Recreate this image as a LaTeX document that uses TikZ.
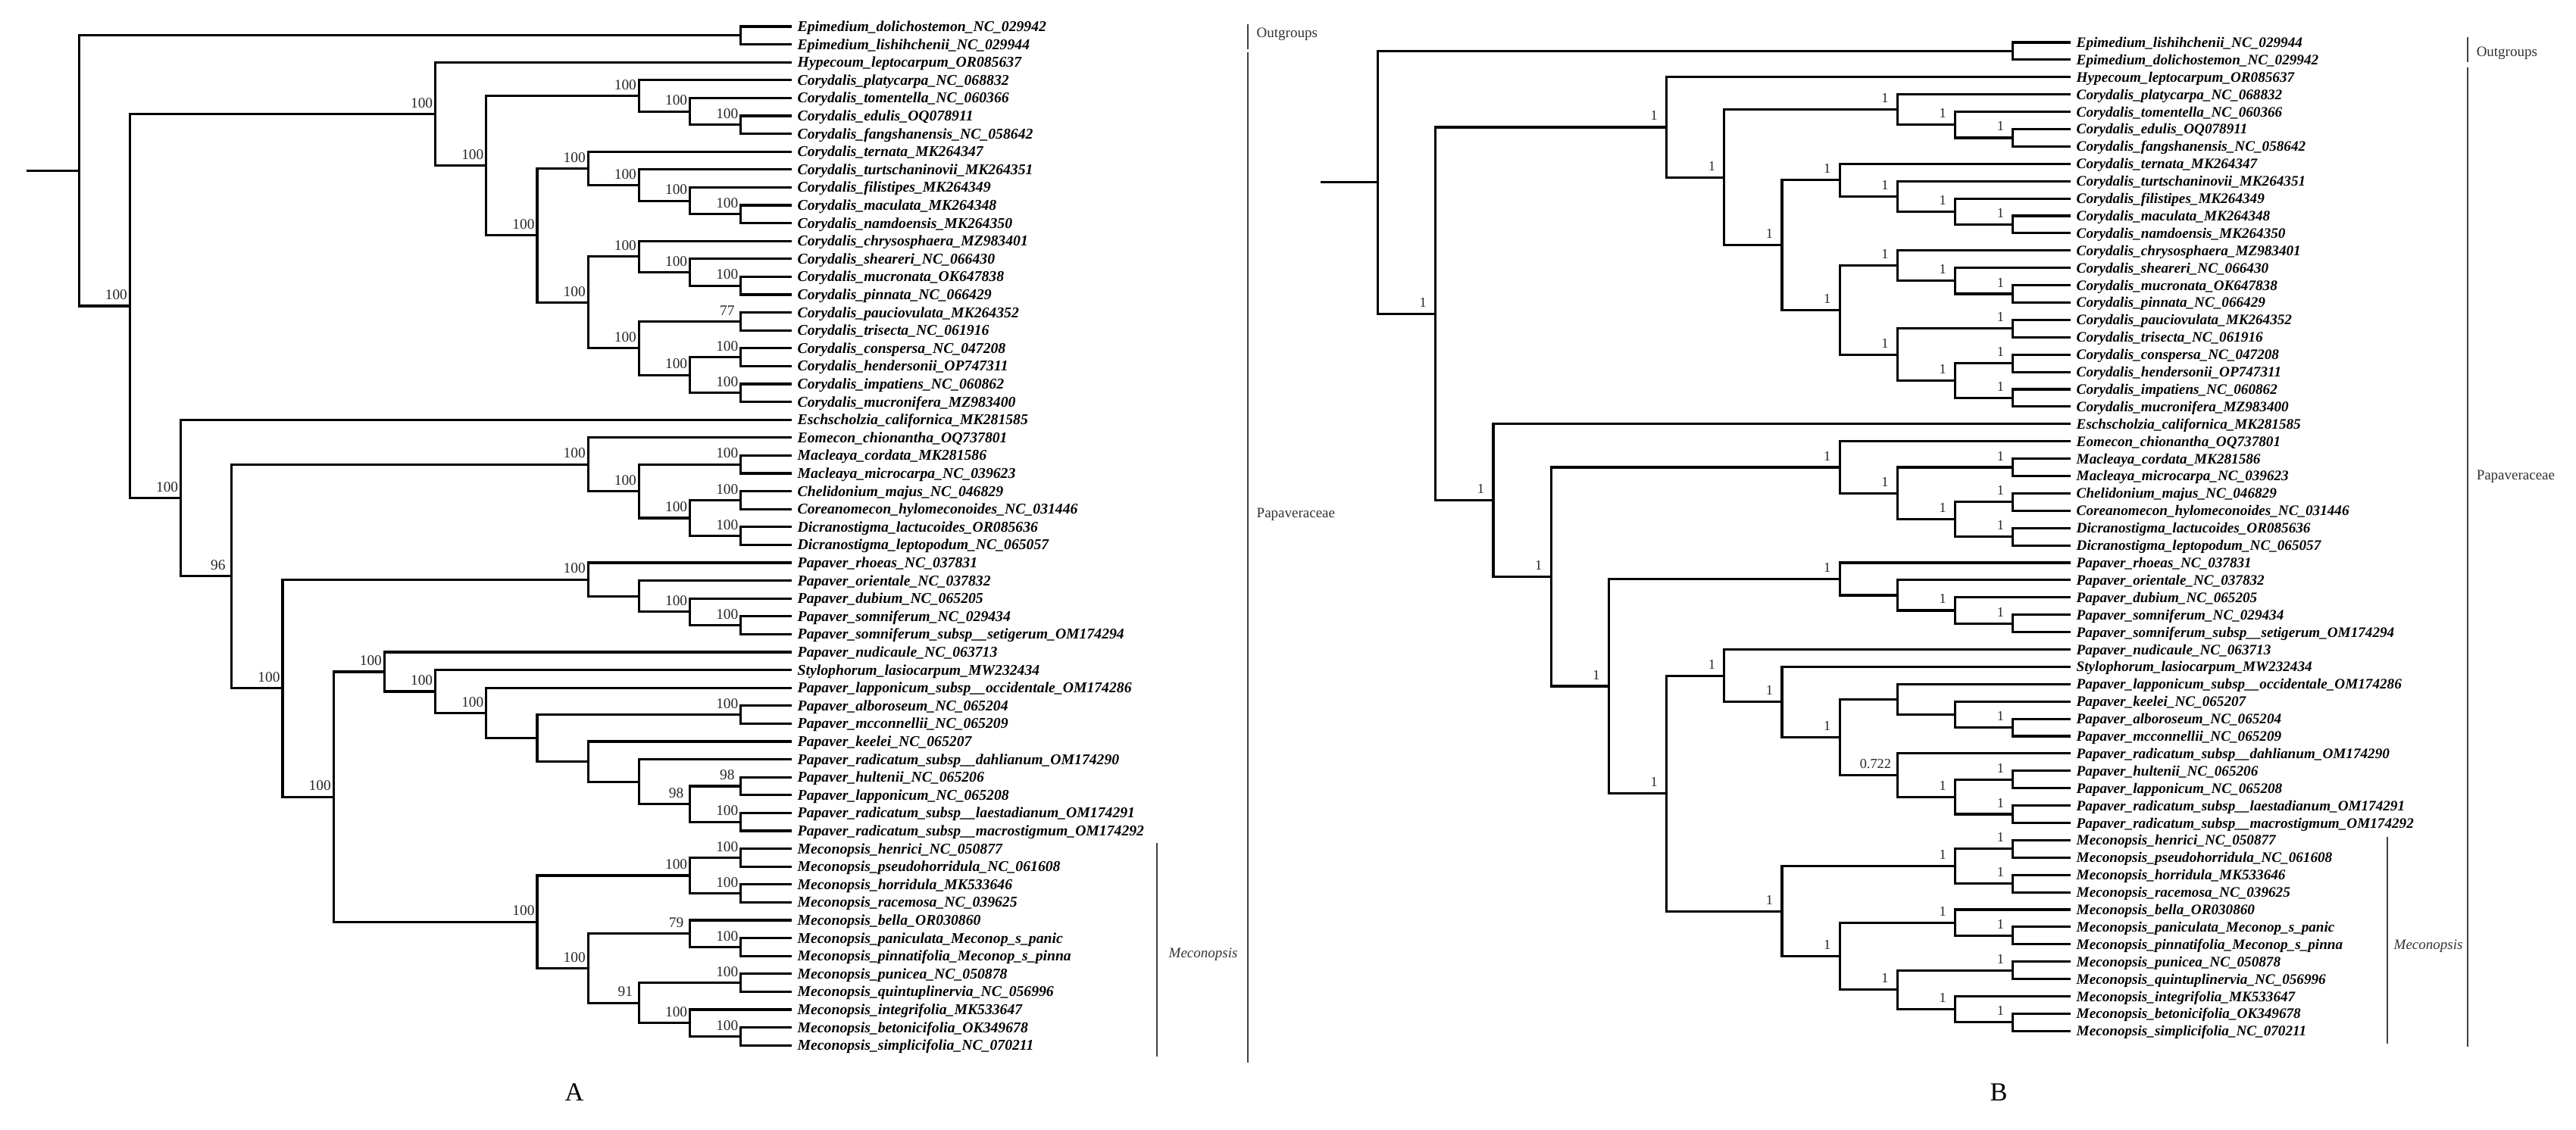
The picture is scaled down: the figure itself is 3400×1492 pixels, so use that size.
\documentclass[tikz,border=0pt]{standalone}
\usepackage{fontspec}
\setmainfont{Liberation Serif}
\usetikzlibrary{calc}
\newcommand\lfntA{\fontsize{5.6}{6}\selectfont\bfseries\itshape}
\newcommand\lfntB{\fontsize{5.45}{6}\selectfont\bfseries\itshape}
\newcommand\sfntA{\fontsize{5.5}{6}\selectfont}
\newcommand\sfntB{\fontsize{5.2}{6}\selectfont}
\newcommand\gfnt{\fontsize{5.4}{6}\selectfont}
\newcommand\pfnt{\fontsize{9.8}{11}\selectfont}
\newcommand\lfA[2]{\coordinate (a#1) at (1045,{35+23.6*(#1-1)});\node[leafA] (ta#1) at (a#1) {#2};}
\newcommand\lfB[2]{\coordinate (b#1) at (2733,{56+22.9*(#1-1)});\node[leafB] (tb#1) at (b#1) {#2};}
\newcommand\nn[4]{\path ($(#3)!0.5!(#4)$) coordinate (m#1);\coordinate (#1) at (m#1 -| #2);\draw[br] (#1) |- (#3);\draw[br] (#1) |- (#4);}
\newcommand\nd[6]{\nn{#1}{#2}{#3}{#4}\node[#5] (s#1) at (#1) {#6};}
\tikzset{
  br/.style={line width=0.9pt, black},
  bkt/.style={line width=0.7pt, black!75},
  leafA/.style={anchor=base west, inner sep=0pt, xshift=0.07cm, yshift=-0.065cm, font=\lfntA},
  leafB/.style={anchor=base west, inner sep=0pt, xshift=0.07cm, yshift=-0.065cm, font=\lfntB},
  supA/.style={anchor=base, inner sep=0pt, xshift=-0.18cm, yshift=0.083cm, font=\sfntA, text=black!85},
  supB/.style={anchor=base, inner sep=0pt, xshift=-0.165cm, yshift=0.09cm, font=\sfntB, text=black!85},
  supBw/.style={supB, xshift=-0.125cm},
  grp/.style={anchor=base west, inner sep=0pt, font=\gfnt, text=black!80},
  pan/.style={anchor=center, inner sep=0pt, font=\pfnt}
}
\begin{document}
\begin{tikzpicture}[x=0.01cm, y=-0.01cm]
\fill[white] (0,0) rectangle (3400,1492);
\useasboundingbox (0,0) rectangle (3400,1492);
\foreach \h in {0,...,14} {\coordinate (LA\h) at ({1045-67.2*\h},0);}
\foreach \h in {0,...,12} {\coordinate (LB\h) at ({2733-76.2*\h},0);}
% ---------------- Tree A leaves
\lfA{1}{Epimedium\_dolichostemon\_NC\_029942}
\lfA{2}{Epimedium\_lishihchenii\_NC\_029944}
\lfA{3}{Hypecoum\_leptocarpum\_OR085637}
\lfA{4}{Corydalis\_platycarpa\_NC\_068832}
\lfA{5}{Corydalis\_tomentella\_NC\_060366}
\lfA{6}{Corydalis\_edulis\_OQ078911}
\lfA{7}{Corydalis\_fangshanensis\_NC\_058642}
\lfA{8}{Corydalis\_ternata\_MK264347}
\lfA{9}{Corydalis\_turtschaninovii\_MK264351}
\lfA{10}{Corydalis\_filistipes\_MK264349}
\lfA{11}{Corydalis\_maculata\_MK264348}
\lfA{12}{Corydalis\_namdoensis\_MK264350}
\lfA{13}{Corydalis\_chrysosphaera\_MZ983401}
\lfA{14}{Corydalis\_sheareri\_NC\_066430}
\lfA{15}{Corydalis\_mucronata\_OK647838}
\lfA{16}{Corydalis\_pinnata\_NC\_066429}
\lfA{17}{Corydalis\_pauciovulata\_MK264352}
\lfA{18}{Corydalis\_trisecta\_NC\_061916}
\lfA{19}{Corydalis\_conspersa\_NC\_047208}
\lfA{20}{Corydalis\_hendersonii\_OP747311}
\lfA{21}{Corydalis\_impatiens\_NC\_060862}
\lfA{22}{Corydalis\_mucronifera\_MZ983400}
\lfA{23}{Eschscholzia\_californica\_MK281585}
\lfA{24}{Eomecon\_chionantha\_OQ737801}
\lfA{25}{Macleaya\_cordata\_MK281586}
\lfA{26}{Macleaya\_microcarpa\_NC\_039623}
\lfA{27}{Chelidonium\_majus\_NC\_046829}
\lfA{28}{Coreanomecon\_hylomeconoides\_NC\_031446}
\lfA{29}{Dicranostigma\_lactucoides\_OR085636}
\lfA{30}{Dicranostigma\_leptopodum\_NC\_065057}
\lfA{31}{Papaver\_rhoeas\_NC\_037831}
\lfA{32}{Papaver\_orientale\_NC\_037832}
\lfA{33}{Papaver\_dubium\_NC\_065205}
\lfA{34}{Papaver\_somniferum\_NC\_029434}
\lfA{35}{Papaver\_somniferum\_subsp\_\_setigerum\_OM174294}
\lfA{36}{Papaver\_nudicaule\_NC\_063713}
\lfA{37}{Stylophorum\_lasiocarpum\_MW232434}
\lfA{38}{Papaver\_lapponicum\_subsp\_\_occidentale\_OM174286}
\lfA{39}{Papaver\_alboroseum\_NC\_065204}
\lfA{40}{Papaver\_mcconnellii\_NC\_065209}
\lfA{41}{Papaver\_keelei\_NC\_065207}
\lfA{42}{Papaver\_radicatum\_subsp\_\_dahlianum\_OM174290}
\lfA{43}{Papaver\_hultenii\_NC\_065206}
\lfA{44}{Papaver\_lapponicum\_NC\_065208}
\lfA{45}{Papaver\_radicatum\_subsp\_\_laestadianum\_OM174291}
\lfA{46}{Papaver\_radicatum\_subsp\_\_macrostigmum\_OM174292}
\lfA{47}{Meconopsis\_henrici\_NC\_050877}
\lfA{48}{Meconopsis\_pseudohorridula\_NC\_061608}
\lfA{49}{Meconopsis\_horridula\_MK533646}
\lfA{50}{Meconopsis\_racemosa\_NC\_039625}
\lfA{51}{Meconopsis\_bella\_OR030860}
\lfA{52}{Meconopsis\_paniculata\_Meconop\_s\_panic}
\lfA{53}{Meconopsis\_pinnatifolia\_Meconop\_s\_pinna}
\lfA{54}{Meconopsis\_punicea\_NC\_050878}
\lfA{55}{Meconopsis\_quintuplinervia\_NC\_056996}
\lfA{56}{Meconopsis\_integrifolia\_MK533647}
\lfA{57}{Meconopsis\_betonicifolia\_OK349678}
\lfA{58}{Meconopsis\_simplicifolia\_NC\_070211}
% ---------------- Tree A internal nodes
\nn{Aout}{LA1}{a1}{a2}
\nd{Ac67}{LA1}{a6}{a7}{supA}{100}
\nd{Ac57}{LA2}{a5}{Ac67}{supA}{100}
\nd{Ac47}{LA3}{a4}{Ac57}{supA}{100}
\nd{Ac1112}{LA1}{a11}{a12}{supA}{100}
\nd{Ac1012}{LA2}{a10}{Ac1112}{supA}{100}
\nd{Ac912}{LA3}{a9}{Ac1012}{supA}{100}
\nd{Ac812}{LA4}{a8}{Ac912}{supA}{100}
\nd{Ac1516}{LA1}{a15}{a16}{supA}{100}
\nd{Ac1416}{LA2}{a14}{Ac1516}{supA}{100}
\nd{Ac1316}{LA3}{a13}{Ac1416}{supA}{100}
\nd{Ac1718}{LA1}{a17}{a18}{supA}{77}
\nd{Ac1920}{LA1}{a19}{a20}{supA}{100}
\nd{Ac2122}{LA1}{a21}{a22}{supA}{100}
\nd{Ac1922}{LA2}{Ac1920}{Ac2122}{supA}{100}
\nd{Ac1722}{LA3}{Ac1718}{Ac1922}{supA}{100}
\nd{Ac1322}{LA4}{Ac1316}{Ac1722}{supA}{100}
\nd{Ac822}{LA5}{Ac812}{Ac1322}{supA}{100}
\nd{Ac422}{LA6}{Ac47}{Ac822}{supA}{100}
\nd{Ac322}{LA7}{a3}{Ac422}{supA}{100}
\nd{Ac2526}{LA1}{a25}{a26}{supA}{100}
\nd{Ac2728}{LA1}{a27}{a28}{supA}{100}
\nd{Ac2930}{LA1}{a29}{a30}{supA}{100}
\nd{Ac2730}{LA2}{Ac2728}{Ac2930}{supA}{100}
\nd{Ac2530}{LA3}{Ac2526}{Ac2730}{supA}{100}
\nd{Ac2430}{LA4}{a24}{Ac2530}{supA}{100}
\nd{Ac3435}{LA1}{a34}{a35}{supA}{100}
\nd{Ac3335}{LA2}{a33}{Ac3435}{supA}{100}
\nn{Ac3235}{LA3}{a32}{Ac3335}
\nd{Ac3135}{LA4}{a31}{Ac3235}{supA}{100}
\nd{Ac3940}{LA1}{a39}{a40}{supA}{100}
\nd{Ac4344}{LA1}{a43}{a44}{supA}{98}
\nd{Ac4546}{LA1}{a45}{a46}{supA}{100}
\nd{Ac4346}{LA2}{Ac4344}{Ac4546}{supA}{98}
\nn{Ac4246}{LA3}{a42}{Ac4346}
\nn{Ac4146}{LA4}{a41}{Ac4246}
\nn{Ac3946}{LA5}{Ac3940}{Ac4146}
\nd{Ac3846}{LA6}{a38}{Ac3946}{supA}{100}
\nd{Ac3746}{LA7}{a37}{Ac3846}{supA}{100}
\nd{Ac3646}{LA8}{a36}{Ac3746}{supA}{100}
\nd{Ac4748}{LA1}{a47}{a48}{supA}{100}
\nd{Ac4950}{LA1}{a49}{a50}{supA}{100}
\nd{Ac4750}{LA2}{Ac4748}{Ac4950}{supA}{100}
\nd{Ac5253}{LA1}{a52}{a53}{supA}{100}
\nd{Ac5153}{LA2}{a51}{Ac5253}{supA}{79}
\nd{Ac5455}{LA1}{a54}{a55}{supA}{100}
\nd{Ac5758}{LA1}{a57}{a58}{supA}{100}
\nd{Ac5658}{LA2}{a56}{Ac5758}{supA}{100}
\nd{Ac5458}{LA3}{Ac5455}{Ac5658}{supA}{91}
\nd{Ac5158}{LA4}{Ac5153}{Ac5458}{supA}{100}
\nd{Ac4758}{LA5}{Ac4750}{Ac5158}{supA}{100}
\nd{Ac3658}{LA9}{Ac3646}{Ac4758}{supA}{100}
\nd{Ac3158}{LA10}{Ac3135}{Ac3658}{supA}{100}
\nd{Ac2458}{LA11}{Ac2430}{Ac3158}{supA}{96}
\nd{Ac2358}{LA12}{a23}{Ac2458}{supA}{100}
\nd{Ac358}{LA13}{Ac322}{Ac2358}{supA}{100}
\nn{Aroot}{LA14}{Aout}{Ac358}
\path (Aroot) ++(-69,0) coordinate (Astub);
\draw[br] (Astub) -- (Aroot);
% ---------------- Tree A groups
\draw[bkt] (1647,32) -- (1647,65);
\node[grp] (gAout) at (1658,49.5) {Outgroups};
\draw[bkt] (1647,69) -- (1647,1403);
\node[grp] (gApap) at (1658,683.5) {Papaveraceae};
\draw[bkt] (1527,1113) -- (1527,1395);
\node[grp, font=\gfnt\itshape] (gAmec) at (1542,1264) {Meconopsis};
\node[pan] (pA) at (758,1442) {A};
% ---------------- Tree B leaves
\lfB{1}{Epimedium\_lishihchenii\_NC\_029944}
\lfB{2}{Epimedium\_dolichostemon\_NC\_029942}
\lfB{3}{Hypecoum\_leptocarpum\_OR085637}
\lfB{4}{Corydalis\_platycarpa\_NC\_068832}
\lfB{5}{Corydalis\_tomentella\_NC\_060366}
\lfB{6}{Corydalis\_edulis\_OQ078911}
\lfB{7}{Corydalis\_fangshanensis\_NC\_058642}
\lfB{8}{Corydalis\_ternata\_MK264347}
\lfB{9}{Corydalis\_turtschaninovii\_MK264351}
\lfB{10}{Corydalis\_filistipes\_MK264349}
\lfB{11}{Corydalis\_maculata\_MK264348}
\lfB{12}{Corydalis\_namdoensis\_MK264350}
\lfB{13}{Corydalis\_chrysosphaera\_MZ983401}
\lfB{14}{Corydalis\_sheareri\_NC\_066430}
\lfB{15}{Corydalis\_mucronata\_OK647838}
\lfB{16}{Corydalis\_pinnata\_NC\_066429}
\lfB{17}{Corydalis\_pauciovulata\_MK264352}
\lfB{18}{Corydalis\_trisecta\_NC\_061916}
\lfB{19}{Corydalis\_conspersa\_NC\_047208}
\lfB{20}{Corydalis\_hendersonii\_OP747311}
\lfB{21}{Corydalis\_impatiens\_NC\_060862}
\lfB{22}{Corydalis\_mucronifera\_MZ983400}
\lfB{23}{Eschscholzia\_californica\_MK281585}
\lfB{24}{Eomecon\_chionantha\_OQ737801}
\lfB{25}{Macleaya\_cordata\_MK281586}
\lfB{26}{Macleaya\_microcarpa\_NC\_039623}
\lfB{27}{Chelidonium\_majus\_NC\_046829}
\lfB{28}{Coreanomecon\_hylomeconoides\_NC\_031446}
\lfB{29}{Dicranostigma\_lactucoides\_OR085636}
\lfB{30}{Dicranostigma\_leptopodum\_NC\_065057}
\lfB{31}{Papaver\_rhoeas\_NC\_037831}
\lfB{32}{Papaver\_orientale\_NC\_037832}
\lfB{33}{Papaver\_dubium\_NC\_065205}
\lfB{34}{Papaver\_somniferum\_NC\_029434}
\lfB{35}{Papaver\_somniferum\_subsp\_\_setigerum\_OM174294}
\lfB{36}{Papaver\_nudicaule\_NC\_063713}
\lfB{37}{Stylophorum\_lasiocarpum\_MW232434}
\lfB{38}{Papaver\_lapponicum\_subsp\_\_occidentale\_OM174286}
\lfB{39}{Papaver\_keelei\_NC\_065207}
\lfB{40}{Papaver\_alboroseum\_NC\_065204}
\lfB{41}{Papaver\_mcconnellii\_NC\_065209}
\lfB{42}{Papaver\_radicatum\_subsp\_\_dahlianum\_OM174290}
\lfB{43}{Papaver\_hultenii\_NC\_065206}
\lfB{44}{Papaver\_lapponicum\_NC\_065208}
\lfB{45}{Papaver\_radicatum\_subsp\_\_laestadianum\_OM174291}
\lfB{46}{Papaver\_radicatum\_subsp\_\_macrostigmum\_OM174292}
\lfB{47}{Meconopsis\_henrici\_NC\_050877}
\lfB{48}{Meconopsis\_pseudohorridula\_NC\_061608}
\lfB{49}{Meconopsis\_horridula\_MK533646}
\lfB{50}{Meconopsis\_racemosa\_NC\_039625}
\lfB{51}{Meconopsis\_bella\_OR030860}
\lfB{52}{Meconopsis\_paniculata\_Meconop\_s\_panic}
\lfB{53}{Meconopsis\_pinnatifolia\_Meconop\_s\_pinna}
\lfB{54}{Meconopsis\_punicea\_NC\_050878}
\lfB{55}{Meconopsis\_quintuplinervia\_NC\_056996}
\lfB{56}{Meconopsis\_integrifolia\_MK533647}
\lfB{57}{Meconopsis\_betonicifolia\_OK349678}
\lfB{58}{Meconopsis\_simplicifolia\_NC\_070211}
% ---------------- Tree B internal nodes
\nn{Bout}{LB1}{b1}{b2}
\nd{Bc67}{LB1}{b6}{b7}{supB}{1}
\nd{Bc57}{LB2}{b5}{Bc67}{supB}{1}
\nd{Bc47}{LB3}{b4}{Bc57}{supB}{1}
\nd{Bc1112}{LB1}{b11}{b12}{supB}{1}
\nd{Bc1012}{LB2}{b10}{Bc1112}{supB}{1}
\nd{Bc912}{LB3}{b9}{Bc1012}{supB}{1}
\nd{Bc812}{LB4}{b8}{Bc912}{supB}{1}
\nd{Bc1516}{LB1}{b15}{b16}{supB}{1}
\nd{Bc1416}{LB2}{b14}{Bc1516}{supB}{1}
\nd{Bc1316}{LB3}{b13}{Bc1416}{supB}{1}
\nd{Bc1718}{LB1}{b17}{b18}{supB}{1}
\nd{Bc1920}{LB1}{b19}{b20}{supB}{1}
\nd{Bc2122}{LB1}{b21}{b22}{supB}{1}
\nd{Bc1922}{LB2}{Bc1920}{Bc2122}{supB}{1}
\nd{Bc1722}{LB3}{Bc1718}{Bc1922}{supB}{1}
\nd{Bc1322}{LB4}{Bc1316}{Bc1722}{supB}{1}
\nd{Bc822}{LB5}{Bc812}{Bc1322}{supB}{1}
\nd{Bc422}{LB6}{Bc47}{Bc822}{supB}{1}
\nd{Bc322}{LB7}{b3}{Bc422}{supB}{1}
\nd{Bc2526}{LB1}{b25}{b26}{supB}{1}
\nd{Bc2728}{LB1}{b27}{b28}{supB}{1}
\nd{Bc2930}{LB1}{b29}{b30}{supB}{1}
\nd{Bc2730}{LB2}{Bc2728}{Bc2930}{supB}{1}
\nd{Bc2530}{LB3}{Bc2526}{Bc2730}{supB}{1}
\nd{Bc2430}{LB4}{b24}{Bc2530}{supB}{1}
\nd{Bc3435}{LB1}{b34}{b35}{supB}{1}
\nd{Bc3335}{LB2}{b33}{Bc3435}{supB}{1}
\nn{Bc3235}{LB3}{b32}{Bc3335}
\nd{Bc3135}{LB4}{b31}{Bc3235}{supB}{1}
\nd{Bc4041}{LB1}{b40}{b41}{supB}{1}
\nn{Bc3941}{LB2}{b39}{Bc4041}
\nn{Bc3841}{LB3}{b38}{Bc3941}
\nd{Bc4344}{LB1}{b43}{b44}{supB}{1}
\nd{Bc4546}{LB1}{b45}{b46}{supB}{1}
\nd{Bc4346}{LB2}{Bc4344}{Bc4546}{supB}{1}
\nd{Bc4246}{LB3}{b42}{Bc4346}{supBw}{0.722}
\nd{Bc3846}{LB4}{Bc3841}{Bc4246}{supB}{1}
\nd{Bc3746}{LB5}{b37}{Bc3846}{supB}{1}
\nd{Bc3646}{LB6}{b36}{Bc3746}{supB}{1}
\nd{Bc4748}{LB1}{b47}{b48}{supB}{1}
\nd{Bc4950}{LB1}{b49}{b50}{supB}{1}
\nd{Bc4750}{LB2}{Bc4748}{Bc4950}{supB}{1}
\nd{Bc5253}{LB1}{b52}{b53}{supB}{1}
\nd{Bc5153}{LB2}{b51}{Bc5253}{supB}{1}
\nd{Bc5455}{LB1}{b54}{b55}{supB}{1}
\nd{Bc5758}{LB1}{b57}{b58}{supB}{1}
\nd{Bc5658}{LB2}{b56}{Bc5758}{supB}{1}
\nd{Bc5458}{LB3}{Bc5455}{Bc5658}{supB}{1}
\nd{Bc5158}{LB4}{Bc5153}{Bc5458}{supB}{1}
\nd{Bc4758}{LB5}{Bc4750}{Bc5158}{supB}{1}
\nd{Bc3658}{LB7}{Bc3646}{Bc4758}{supB}{1}
\nd{Bc3158}{LB8}{Bc3135}{Bc3658}{supB}{1}
\nd{Bc2458}{LB9}{Bc2430}{Bc3158}{supB}{1}
\nd{Bc2358}{LB10}{b23}{Bc2458}{supB}{1}
\nd{Bc358}{LB11}{Bc322}{Bc2358}{supB}{1}
\nn{Broot}{LB12}{Bout}{Bc358}
\path (Broot) ++(-76,0) coordinate (Bstub);
\draw[br] (Bstub) -- (Broot);
% ---------------- Tree B groups
\draw[bkt] (3257,49) -- (3257,82);
\node[grp] (gBout) at (3268,74.5) {Outgroups};
\draw[bkt] (3257,89) -- (3257,1382);
\node[grp] (gBpap) at (3268,633.5) {Papaveraceae};
\draw[bkt] (3151,1105) -- (3151,1378);
\node[grp, font=\gfnt\itshape] (gBmec) at (3159,1253.5) {Meconopsis};
\node[pan] (pB) at (2638,1442) {B};
\end{tikzpicture}
\end{document}
